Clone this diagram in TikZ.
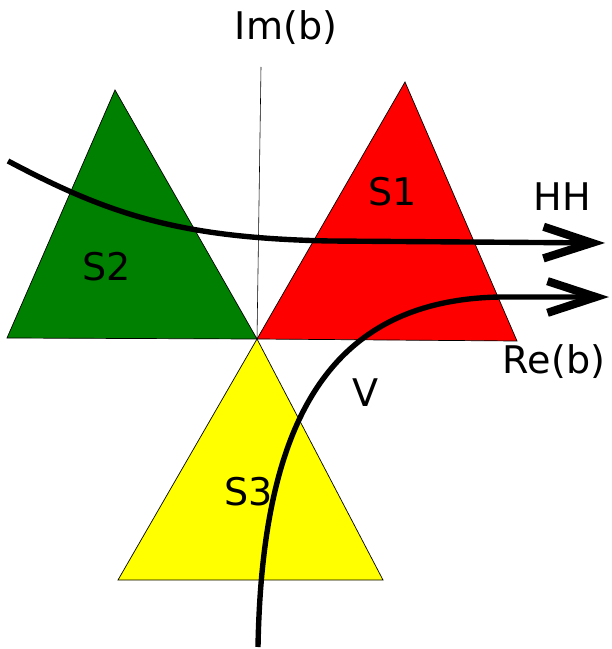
\documentclass[tikz,border=0pt]{standalone}
\usepackage{fontspec}
\setmainfont{DejaVu Sans}
\usetikzlibrary{arrows.meta}
\definecolor{sgreen}{RGB}{0,128,0}
\definecolor{sred}{RGB}{255,0,0}
\definecolor{syellow}{RGB}{255,255,0}

\begin{document}
\begin{tikzpicture}[x=0.03cm, y=-0.03cm,
  tri/.style={draw, line width=0.6pt},
  axis/.style={line width=0.5pt},
  lab/.style={font=\fontsize{32.5}{39}\selectfont, inner sep=0pt},
  flow/.style={line width=4.6pt, -{Straight Barb[length=1.45cm, width=0.95cm, line width=7pt]}}]
  \useasboundingbox (0,0) rectangle (611,649);
  \coordinate (O) at (257,339);
  % sectors
  \draw[tri, fill=sgreen] (7,338) -- (115,90) -- (O) -- cycle;
  \draw[tri, fill=sred] (O) -- (405,82) -- (517,341) -- cycle;
  \draw[tri, fill=syellow] (O) -- (383,580) -- (118,580) -- cycle;
  % axis
  \coordinate (imtop) at (261,67);
  \draw[axis] (imtop) -- (O);
  \node[lab] (im) at (286,28) {Im(b)};
  \node[lab] (re) at (554,362) {Re(b)};
  \node[lab] (s1) at (393,192) {S1};
  \node[lab] (s2) at (107,267) {S2};
  \node[lab] (s3) at (249,492) {S3};
  % paths
  \coordinate (hh0) at (8,161);
  \coordinate (hh1) at (605,243);
  \draw[flow] (hh0) .. controls (110,215) and (180,238) .. (330,241) -- (hh1);
  \node[lab] (hh) at (562,197) {HH};
  \coordinate (v0) at (258,647);
  \coordinate (v1) at (609,297);
  \draw[flow] (v0) .. controls (262,420) and (330,300) .. (500,297) -- (v1);
  \node[lab] (v) at (366,393) {V};
\end{tikzpicture}
\end{document}
